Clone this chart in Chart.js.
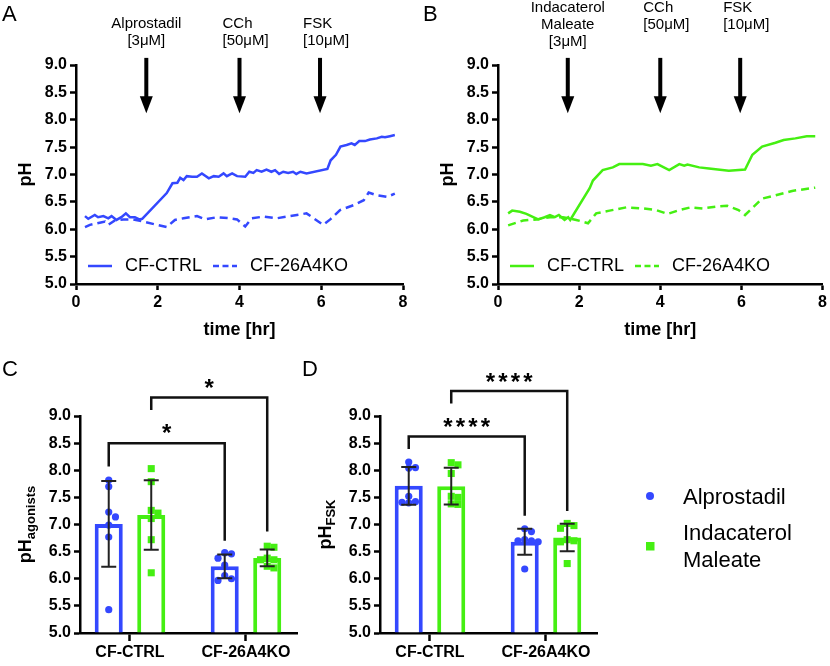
<!DOCTYPE html>
<html lang="en">
<head>
<meta charset="UTF-8">
<title>pH time course and endpoints</title>
<script src="https://cdn.jsdelivr.net/npm/chart.js@4"></script>
<style>
  body { margin: 0; background: #fff; }
  #wrap { position: relative; width: 830px; height: 666px; }
  #wrap canvas { position: absolute; }
</style>
</head>
<body>
<div id="wrap">
  <canvas id="chartA" width="415" height="345" style="left:0;top:0"></canvas>
  <canvas id="chartB" width="415" height="345" style="left:415px;top:0"></canvas>
  <canvas id="chartC" width="310" height="326" style="left:0;top:340px"></canvas>
  <canvas id="chartD" width="530" height="326" style="left:300px;top:340px"></canvas>
</div>
<script>
// ---- data: panel A (Alprostadil) ----
const timeA_ctrl = [0.22,0.30,0.46,0.54,0.67,0.79,0.87,0.99,1.11,1.22,1.32,1.44,1.55,1.62,2.22,2.36,2.48,2.55,2.63,2.71,2.84,2.96,3.08,3.25,3.37,3.49,3.61,3.69,3.82,3.94,4.14,4.24,4.34,4.42,4.54,4.66,4.78,4.87,4.97,5.07,5.19,5.31,5.39,5.49,5.64,6.15,6.23,6.36,6.47,6.62,6.74,6.82,6.93,7.07,7.19,7.36,7.48,7.56,7.68,7.80];
const phA_ctrl   = [6.24,6.19,6.26,6.22,6.24,6.20,6.24,6.17,6.22,6.29,6.22,6.22,6.18,6.19,6.66,6.84,6.85,6.94,6.90,6.97,6.96,6.96,7.02,6.93,6.97,6.96,7.02,6.97,7.02,6.97,6.96,7.05,7.03,7.08,7.05,7.09,7.05,7.08,7.01,7.05,7.03,7.05,7.01,7.05,7.02,7.10,7.26,7.36,7.51,7.54,7.57,7.54,7.61,7.61,7.64,7.66,7.69,7.68,7.70,7.72];
const timeA_ko = [0.22,0.34,0.58,0.71,0.79,0.95,1.16,1.40,1.65,1.98,2.22,2.42,2.63,2.96,3.16,3.45,3.77,3.94,4.14,4.30,4.58,4.91,5.23,5.64,6.05,6.22,6.46,6.79,7.04,7.16,7.36,7.61,7.80];
const phA_ko   = [6.04,6.08,6.12,6.14,6.08,6.16,6.18,6.18,6.14,6.08,6.04,6.17,6.20,6.24,6.18,6.22,6.20,6.18,6.05,6.20,6.23,6.20,6.24,6.29,6.08,6.18,6.35,6.44,6.53,6.67,6.62,6.59,6.65];

// ---- data: panel B (Indacaterol Maleate) ----
const timeB_ctrl = [0.25,0.35,0.54,0.70,0.87,0.99,1.15,1.28,1.40,1.50,1.64,1.73,1.78,2.26,2.34,2.58,2.83,2.99,3.24,3.57,3.77,3.93,4.22,4.47,4.59,4.67,4.96,5.20,5.69,6.09,6.27,6.51,6.84,7.04,7.33,7.61,7.82];
const phB_ctrl   = [6.29,6.34,6.32,6.28,6.22,6.18,6.22,6.26,6.22,6.26,6.17,6.22,6.17,6.75,6.89,7.08,7.13,7.19,7.19,7.19,7.16,7.19,7.08,7.19,7.16,7.18,7.13,7.11,7.07,7.09,7.36,7.51,7.58,7.63,7.66,7.70,7.70];
const timeB_ko = [0.25,0.62,0.95,1.28,1.60,1.93,2.22,2.42,2.75,3.16,3.57,3.90,4.18,4.47,4.75,5.04,5.36,5.65,5.93,6.09,6.26,6.51,6.84,7.25,7.82];
const phB_ko   = [6.07,6.16,6.18,6.22,6.22,6.17,6.11,6.29,6.34,6.40,6.38,6.35,6.28,6.35,6.40,6.38,6.41,6.43,6.35,6.26,6.38,6.56,6.62,6.70,6.76];

const seriesLabels = ['CF-CTRL', 'CF-26A4KO'];
const arrowTimes = [1.72, 4.0, 5.97];
const arrowLabelsA = [['Alprostadil', '[3μM]'], ['CCh', '[50μM]'], ['FSK', '[10μM]']];
const arrowLabelsB = [['Indacaterol', 'Maleate', '[3μM]'], ['CCh', '[50μM]'], ['FSK', '[10μM]']];

// ---- data: panels C and D (individual wells) ----
const groups = ['CF-CTRL', 'CF-26A4KO'];
const treatments = ['Alprostadil', 'Indacaterol Maleate'];
const agonistAlp = [[7.82,7.70,7.23,7.14,6.99,6.77,5.43], [6.48,6.46,6.38,6.25,6.06,6.00,5.97]];
const agonistInd = [[8.03,7.79,7.26,7.21,7.11,6.72,6.11], [6.60,6.58,6.38,6.35,6.35,6.23,6.20]];
const fskAlp = [[8.15,8.05,8.04,7.52,7.42,7.41,7.40], [6.92,6.87,6.72,6.70,6.70,6.68,6.18]];
const fskInd = [[8.14,8.10,7.94,7.52,7.50,7.38,7.37], [7.02,6.98,6.93,6.72,6.70,6.68,6.28]];
const bracketsC = [
  { set: 0, y: 8.50, left: 8.07, right: 6.70, label: '*', labelY: 8.80 },
  { set: 1, y: 9.34, left: 9.11, right: 6.87, label: '*', labelY: 9.63 }
];
const bracketsD = [
  { set: 0, y: 8.62, left: 8.39, right: 7.16, label: '****', labelY: 8.90 },
  { set: 1, y: 9.46, left: 9.23, right: 7.25, label: '****', labelY: 9.74 }
];

const FONT = '"Liberation Sans", Arial, Helvetica, sans-serif';
const BLUE = '#3448ff';
const GREEN = '#45ef12';
const CAT_PCT = 0.733;
const BAR_PCT = 0.66;
const ARROW_TOP = 9.13, ARROW_TIP = 8.12;

Chart.defaults.color = '#000';
Chart.defaults.font.family = FONT;

const pts = (t, v) => t.map((x, i) => ({ x, y: v[i] }));
const mean = a => a.reduce((s, v) => s + v, 0) / a.length;
const sd = a => { const m = mean(a); return Math.sqrt(a.reduce((s, v) => s + (v - m) ** 2, 0) / (a.length - 1)); };

// spread dots sideways when they would overlap
function swarm(vals, cx) {
  const step = 0.058, placed = [];
  return vals.map(v => {
    let off = 0;
    for (let k = 0; k < 12; k++) {
      off = k === 0 ? 0 : (k % 2 ? 1 : -1) * Math.ceil(k / 2) * step;
      const hit = placed.some(p => Math.abs(p.y - v) < 0.11 && Math.abs(p.x - (cx + off)) < step * 0.9);
      if (!hit) break;
    }
    const p = { x: cx + off, y: v };
    placed.push(p);
    return p;
  });
}

function axisStyle(extra) {
  return Object.assign({
    grid: { drawOnChartArea: false, offset: false, tickLength: 6, tickColor: '#000', tickWidth: 2.5 },
    border: { color: '#000', width: 2.5 }
  }, extra);
}
const tickFont = { family: FONT, size: 16, weight: 'bold' };

function rotatedTitle(ctx, main, sub, x, y) {
  ctx.save();
  ctx.translate(x, y);
  ctx.rotate(-Math.PI / 2);
  ctx.textBaseline = 'alphabetic';
  ctx.textAlign = 'left';
  ctx.font = `bold 18px ${FONT}`;
  const w1 = ctx.measureText(main).width;
  ctx.font = `bold 13px ${FONT}`;
  const w2 = sub ? ctx.measureText(sub).width : 0;
  const x0 = -(w1 + w2) / 2;
  ctx.font = `bold 18px ${FONT}`;
  ctx.fillText(main, x0, 0);
  if (sub) { ctx.font = `bold 13px ${FONT}`; ctx.fillText(sub, x0 + w1, 4); }
  ctx.restore();
}

function lineDecor(cfg) {
  return {
    id: 'lineDecor',
    afterDraw(chart) {
      const ctx = chart.ctx, xs = chart.scales.x, ys = chart.scales.y, a = chart.chartArea;
      ctx.save();
      ctx.fillStyle = '#000';
      ctx.font = `22px ${FONT}`;
      ctx.textAlign = 'left';
      ctx.textBaseline = 'middle';
      ctx.fillText(cfg.letter, cfg.letterX, 15);

      arrowTimes.forEach((t, i) => {
        const px = xs.getPixelForValue(t);
        const top = ys.getPixelForValue(ARROW_TOP), tip = ys.getPixelForValue(ARROW_TIP);
        ctx.fillRect(px - 2, top, 4, tip - top - 15);
        ctx.beginPath();
        ctx.moveTo(px - 6.5, tip - 17);
        ctx.lineTo(px + 6.5, tip - 17);
        ctx.lineTo(px, tip);
        ctx.closePath();
        ctx.fill();
        ctx.font = `15px ${FONT}`;
        ctx.textAlign = i === 0 ? 'center' : 'left';
        const lx = i === 0 ? px : px - 17;
        cfg.labels[i].forEach((s, k) => ctx.fillText(s, lx, cfg.textTop + k * 17));
      });

      // legend inside the plot
      const lx0 = a.left + 12, ly = a.bottom - 18;
      chart.data.datasets.forEach((ds, i) => {
        const sx = lx0 + i * 125;
        ctx.strokeStyle = ds.borderColor;
        ctx.lineWidth = 2.5;
        ctx.setLineDash(i ? [6, 3.5] : []);
        ctx.beginPath();
        ctx.moveTo(sx, ly);
        ctx.lineTo(sx + 24, ly);
        ctx.stroke();
        ctx.setLineDash([]);
        ctx.font = `18px ${FONT}`;
        ctx.textAlign = 'left';
        ctx.fillText(ds.label, sx + 37, ly);
      });

      ctx.font = `bold 18px ${FONT}`;
      ctx.textAlign = 'center';
      ctx.fillText('time [hr]', (a.left + a.right) / 2, 330);
      ctx.restore();
      rotatedTitle(ctx, 'pH', '', a.left - 45, (a.top + a.bottom) / 2);
    }
  };
}

function lineChart(id, cfg) {
  return new Chart(document.getElementById(id), {
    type: 'line',
    data: {
      datasets: [
        { label: seriesLabels[0], data: pts(cfg.t1, cfg.v1), borderColor: cfg.color, borderWidth: 2.5, pointRadius: 0, tension: 0 },
        { label: seriesLabels[1], data: pts(cfg.t2, cfg.v2), borderColor: cfg.color, borderWidth: 2.5, borderDash: [8, 5], pointRadius: 0, tension: 0 }
      ]
    },
    options: {
      responsive: false, animation: false, events: [],
      layout: { padding: { left: 0, top: 65, right: cfg.padRight, bottom: 0 } },
      scales: {
        x: axisStyle({ type: 'linear', min: 0, max: 8,
          ticks: { stepSize: 2, font: tickFont, color: '#000', padding: 3, maxRotation: 0 },
          afterFit: s => { s.height = 61; } }),
        y: axisStyle({ type: 'linear', min: 5, max: 9,
          ticks: { stepSize: 0.5, font: tickFont, color: '#000', padding: 3, callback: v => v.toFixed(1) },
          afterFit: s => { s.width = cfg.yWidth; } })
      },
      plugins: { legend: { display: false }, tooltip: { enabled: false } }
    },
    plugins: [lineDecor(cfg)]
  });
}

lineChart('chartA', { t1: timeA_ctrl, v1: phA_ctrl, t2: timeA_ko, v2: phA_ko, color: BLUE,
  letter: 'A', letterX: 2, labels: arrowLabelsA, textTop: 24, yWidth: 76, padRight: 12 });
lineChart('chartB', { t1: timeB_ctrl, v1: phB_ctrl, t2: timeB_ko, v2: phB_ko, color: GREEN,
  letter: 'B', letterX: 8, labels: arrowLabelsB, textTop: 8, yWidth: 83, padRight: 6 });

function barDecor(cfg) {
  return {
    id: 'barDecor',
    afterDatasetsDraw(chart) {
      const ctx = chart.ctx, ys = chart.scales.y;
      ctx.save();
      // mean +/- SD
      ctx.strokeStyle = '#222';
      ctx.lineWidth = 2;
      cfg.sets.forEach((set, d) => {
        chart.getDatasetMeta(d).data.forEach((el, g) => {
          const m = mean(set[g]), s = sd(set[g]);
          const y1 = ys.getPixelForValue(m + s), y2 = ys.getPixelForValue(m - s);
          ctx.beginPath();
          ctx.moveTo(el.x, y1); ctx.lineTo(el.x, y2);
          ctx.moveTo(el.x - 7.5, y1); ctx.lineTo(el.x + 7.5, y1);
          ctx.moveTo(el.x - 7.5, y2); ctx.lineTo(el.x + 7.5, y2);
          ctx.stroke();
        });
      });
      ctx.restore();
    },
    afterDraw(chart) {
      const ctx = chart.ctx, ys = chart.scales.y, a = chart.chartArea;
      ctx.save();
      ctx.strokeStyle = '#111';
      ctx.fillStyle = '#000';
      ctx.lineWidth = 2.5;
      cfg.brackets.forEach(b => {
        const els = chart.getDatasetMeta(b.set).data;
        const xl = els[0].x, xr = els[1].x, yb = ys.getPixelForValue(b.y);
        ctx.beginPath();
        ctx.moveTo(xl, ys.getPixelForValue(b.left));
        ctx.lineTo(xl, yb);
        ctx.lineTo(xr, yb);
        ctx.lineTo(xr, ys.getPixelForValue(b.right));
        ctx.stroke();
        ctx.font = `bold 24px ${FONT}`;
        ctx.textAlign = 'center';
        ctx.textBaseline = 'alphabetic';
        const n = b.label.length, cx = (xl + xr) / 2, cy = ys.getPixelForValue(b.labelY) + 14;
        for (let k = 0; k < n; k++) ctx.fillText('*', cx + (k - (n - 1) / 2) * 12.5, cy);
      });
      ctx.font = `22px ${FONT}`;
      ctx.textAlign = 'left';
      ctx.textBaseline = 'middle';
      ctx.fillText(cfg.letter, 2, 30);
      if (cfg.legend) {
        ctx.fillStyle = BLUE;
        ctx.beginPath(); ctx.arc(350, 156, 4, 0, Math.PI * 2); ctx.fill();
        ctx.fillStyle = GREEN;
        ctx.fillRect(346, 202, 8.5, 8.5);
        ctx.fillStyle = '#000';
        ctx.font = `22px ${FONT}`;
        ctx.fillText(treatments[0], 383, 158);
        const parts = treatments[1].split(' ');
        ctx.fillText(parts[0], 383, 194);
        ctx.fillText(parts[1], 383, 221);
      }
      ctx.restore();
      rotatedTitle(ctx, 'pH', cfg.sub, a.left - 49, (a.top + a.bottom) / 2);
    }
  };
}

function barChart(id, cfg) {
  const colors = [BLUE, GREEN];
  const bars = cfg.sets.map((set, d) => ({
    type: 'bar', label: treatments[d],
    data: set.map((v, g) => ({ x: g, y: mean(v) })),
    base: 5, backgroundColor: '#fff', borderColor: colors[d], borderWidth: 4, borderSkipped: 'start',
    categoryPercentage: CAT_PCT, barPercentage: BAR_PCT, order: 2
  }));
  const dots = cfg.sets.map((set, d) => ({
    type: 'scatter', label: treatments[d],
    data: set.flatMap((v, g) => swarm(v, g + (d === 0 ? -1 : 1) * CAT_PCT / 4)),
    pointStyle: d === 0 ? 'circle' : 'rect', pointRadius: d === 0 ? 3.6 : 5,
    backgroundColor: colors[d], borderWidth: 0, order: 1
  }));
  return new Chart(document.getElementById(id), {
    type: 'bar',
    data: { datasets: bars.concat(dots) },
    options: {
      responsive: false, animation: false, events: [],
      layout: { padding: { left: 0, top: 76, right: cfg.padRight, bottom: 0 } },
      scales: {
        x: axisStyle({ type: 'linear', min: -0.431, max: 1.44, offset: false,
          grid: { drawOnChartArea: false, offset: false, tickLength: 8, tickColor: '#000', tickWidth: 2.5 },
          ticks: { font: tickFont, color: '#000', padding: 2, autoSkip: false, maxRotation: 0, callback: v => groups[v] },
          afterBuildTicks: s => { s.ticks = groups.map((g, i) => ({ value: i })); },
          afterFit: s => { s.height = 33; } }),
        y: axisStyle({ type: 'linear', min: 5, max: 9,
          ticks: { stepSize: 0.5, font: tickFont, color: '#000', padding: 3, callback: v => v.toFixed(1) },
          afterFit: s => { s.width = 80; } })
      },
      plugins: { legend: { display: false }, tooltip: { enabled: false } }
    },
    plugins: [barDecor(cfg)]
  });
}

barChart('chartC', { sets: [agonistAlp, agonistInd], brackets: bracketsC, letter: 'C', sub: 'agonists', padRight: 13 });
barChart('chartD', { sets: [fskAlp, fskInd], brackets: bracketsD, letter: 'D', sub: 'FSK', padRight: 233, legend: true });
</script>
</body>
</html>
